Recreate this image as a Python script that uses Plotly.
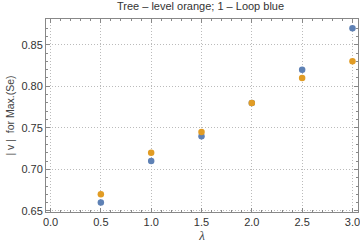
import plotly.graph_objects as go

lam = [0.5, 1.0, 1.5, 2.0, 2.5, 3.0]
loop_blue = [0.66, 0.71, 0.74, 0.78, 0.82, 0.87]
tree_orange = [0.67, 0.72, 0.745, 0.78, 0.81, 0.83]

x_ticks = [0.0, 0.5, 1.0, 1.5, 2.0, 2.5, 3.0]
y_ticks = [0.65, 0.70, 0.75, 0.80, 0.85]

fig = go.Figure()
fig.add_trace(go.Scatter(x=lam, y=loop_blue, mode="markers", cliponaxis=False,
                         marker=dict(color="#5E81B5", size=6.5), showlegend=False))
fig.add_trace(go.Scatter(x=lam, y=tree_orange, mode="markers", cliponaxis=False,
                         marker=dict(color="#E19C24", size=6.5), showlegend=False))

font = dict(family="Liberation Sans, Arial, sans-serif", size=11, color="#333333")
axis_common = dict(
    showline=True, linecolor="#888888", linewidth=1, mirror="allticks",
    ticks="inside", ticklen=4, tickcolor="#888888", tickwidth=1,
    showgrid=True, gridcolor="#bbbbbb", griddash="1px,2px", gridwidth=1,
    zeroline=False, tickfont=font, automargin=False, ticklabeloverflow="allow",
)
fig.update_xaxes(range=[-0.045, 3.055], tickvals=x_ticks,
                 ticktext=[f"{v:.1f}" for v in x_ticks],
                 minor=dict(dtick=0.1, ticks="inside", ticklen=2, tickcolor="#888888", showgrid=False),
                 title=dict(text="<i>λ</i>", font=dict(family="Liberation Serif, serif", size=13, color="#444444"), standoff=3),
                 **axis_common)
fig.update_yaxes(range=[0.6487, 0.881], tickvals=y_ticks,
                 ticktext=[f"{v:.2f}" for v in y_ticks],
                 minor=dict(dtick=0.01, ticks="inside", ticklen=2, tickcolor="#888888", showgrid=False),
                 title=dict(text="| v |  for Max.(Se)", font=dict(family="Liberation Sans, Arial, sans-serif", size=10.5, color="#444444"), standoff=4),
                 **axis_common)
fig.update_layout(
    width=360, height=248,
    margin=dict(l=46, r=2, t=19, b=36),
    plot_bgcolor="white", paper_bgcolor="white",
    title=dict(text="Tree – level orange; 1 – Loop blue", x=0.557, xanchor="center",
               y=0.975, yanchor="middle",
               font=dict(family="Liberation Sans, Arial, sans-serif", size=11, color="#333333")),
    font=font,
)
fig.write_html("out.html", config={"displayModeBar": False},
               post_script="document.body.style.margin='0';document.body.style.padding='0';")
